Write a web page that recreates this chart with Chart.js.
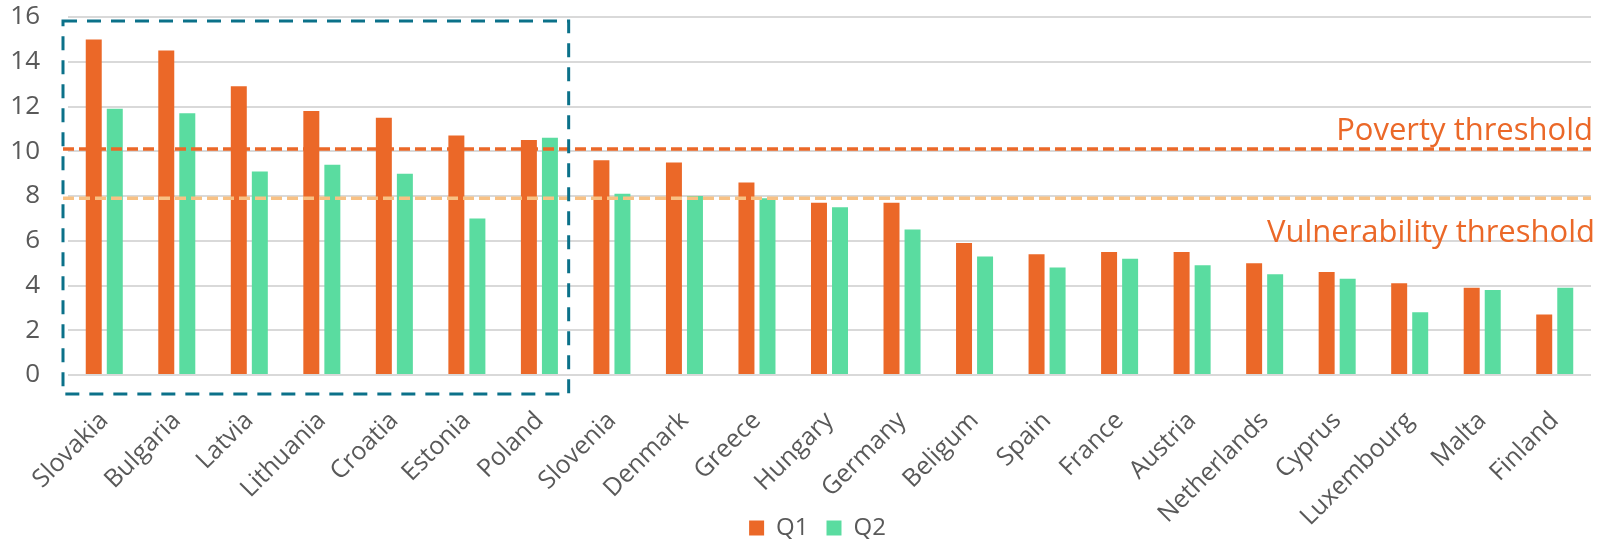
<!DOCTYPE html>
<html>
<head>
<meta charset="utf-8">
<script src="https://cdn.jsdelivr.net/npm/chart.js@4.4.1/dist/chart.umd.min.js"></script>
<style>
  html, body { margin: 0; padding: 0; background: #fff; }
  #wrap { width: 1600px; height: 543px; position: relative; }
</style>
</head>
<body>
<div id="wrap"><canvas id="chart"></canvas></div>
<script>
// data
const countries = ['Slovakia', 'Bulgaria', 'Latvia', 'Lithuania', 'Croatia', 'Estonia', 'Poland',
    'Slovenia', 'Denmark', 'Greece', 'Hungary', 'Germany', 'Beligum', 'Spain', 'France',
    'Austria', 'Netherlands', 'Cyprus', 'Luxembourg', 'Malta', 'Finland'];
const q1Values = [15.0, 14.5, 12.9, 11.8, 11.5, 10.7, 10.5, 9.6, 9.5, 8.6, 7.7, 7.7, 5.9, 5.4, 5.5, 5.5, 5.0, 4.6, 4.1, 3.9, 2.7];
const q2Values = [11.9, 11.7, 9.1, 9.4, 9.0, 7.0, 10.6, 8.1, 8.0, 7.9, 7.5, 6.5, 5.3, 4.8, 5.2, 4.9, 4.5, 4.3, 2.8, 3.8, 3.9];
const yTicks = [0, 2, 4, 6, 8, 10, 12, 14, 16];
const povertyThreshold = 10.1;
const vulnerabilityThreshold = 7.9;
const highlightedCount = 7; // Slovakia .. Poland

const ORANGE = '#EB6828';
const GREEN = '#5ADCA0';
const LIGHT_ORANGE = '#F8C184';
const TEAL = '#0B7189';
const GREY_TEXT = '#595959';

// matikan padding otomatis + clipping label, supaya area grafik bisa diatur sendiri
function freeScale(scale) {
    scale.paddingTop = 0;
    scale.paddingBottom = 0;
    scale.paddingLeft = 0;
    scale.paddingRight = 0;
    scale._computeLabelArea = () => undefined;
}

// garis ambang + kotak putus-putus
const thresholdPlugin = {
    id: 'thresholds',
    afterDatasetsDraw(chart) {
        const { ctx, chartArea, scales: { x, y } } = chart;
        const half = (x.getPixelForValue(1) - x.getPixelForValue(0)) / 2;
        const boxLeft = chartArea.left - 5;
        const boxRight = x.getPixelForValue(highlightedCount - 1) + half - 7;
        const boxTop = y.getPixelForValue(yTicks[yTicks.length - 1]) + 4;
        const boxBottom = y.getPixelForValue(0) + 19;

        ctx.save();
        ctx.lineWidth = 3.5;
        ctx.setLineDash([11, 5]);

        const povY = y.getPixelForValue(povertyThreshold);
        ctx.strokeStyle = ORANGE;
        ctx.beginPath();
        ctx.moveTo(boxLeft, povY);
        ctx.lineTo(chartArea.right, povY);
        ctx.stroke();

        const vulY = y.getPixelForValue(vulnerabilityThreshold);
        ctx.strokeStyle = LIGHT_ORANGE;
        ctx.beginPath();
        ctx.moveTo(boxLeft, vulY);
        ctx.lineTo(chartArea.right, vulY);
        ctx.stroke();

        ctx.setLineDash([]);
        ctx.fillStyle = ORANGE;
        ctx.font = '31px "Open Sans"';
        ctx.textAlign = 'right';
        ctx.textBaseline = 'alphabetic';
        ctx.fillText('Poverty threshold', chartArea.right + 2, povY - 9);
        ctx.fillText('Vulnerability threshold', chartArea.right + 4, vulY + 44);

        ctx.strokeStyle = TEAL;
        ctx.lineWidth = 3;
        ctx.setLineDash([14, 10]);
        ctx.strokeRect(boxLeft, boxTop, boxRight - boxLeft, boxBottom - boxTop);
        ctx.restore();
    }
};

const data = {
    labels: countries,
    datasets: [{
        label: 'Q1',
        data: q1Values,
        backgroundColor: ORANGE,
        borderWidth: 0,
        barPercentage: 0.76,
        categoryPercentage: 0.58
    }, {
        label: 'Q2',
        data: q2Values,
        backgroundColor: GREEN,
        borderWidth: 0,
        barPercentage: 0.76,
        categoryPercentage: 0.58
    }]
};

const config = {
    type: 'bar',
    data: data,
    options: {
        responsive: true,
        maintainAspectRatio: false,
        animation: false,
        layout: { padding: { top: 17, right: 9, left: 44, bottom: -7 } },
        scales: {
            x: {
                afterFit: (scale) => { freeScale(scale); scale.height = 123; },
                grid: { display: false },
                border: { display: false },
                ticks: {
                    autoSkip: false,
                    maxRotation: 45,
                    minRotation: 45,
                    padding: 23,
                    color: GREY_TEXT,
                    font: { family: 'Open Sans', size: 25 }
                }
            },
            y: {
                min: 0,
                max: 16,
                afterBuildTicks: (scale) => { scale.ticks = yTicks.map(v => ({ value: v })); },
                afterFit: (scale) => { freeScale(scale); scale.width = 24; },
                grid: { color: '#D9D9D9', lineWidth: 2, drawTicks: false },
                border: { display: false },
                ticks: {
                    padding: 28,
                    color: GREY_TEXT,
                    font: { family: 'Open Sans', size: 26 }
                }
            }
        },
        plugins: {
            legend: {
                position: 'bottom',
                labels: {
                    boxWidth: 15,
                    boxHeight: 15,
                    padding: 18,
                    color: GREY_TEXT,
                    font: { family: 'Open Sans', size: 24 }
                }
            },
            tooltip: { enabled: false }
        }
    },
    plugins: [thresholdPlugin]
};

new Chart(document.getElementById('chart'), config);
</script>
</body>
</html>
